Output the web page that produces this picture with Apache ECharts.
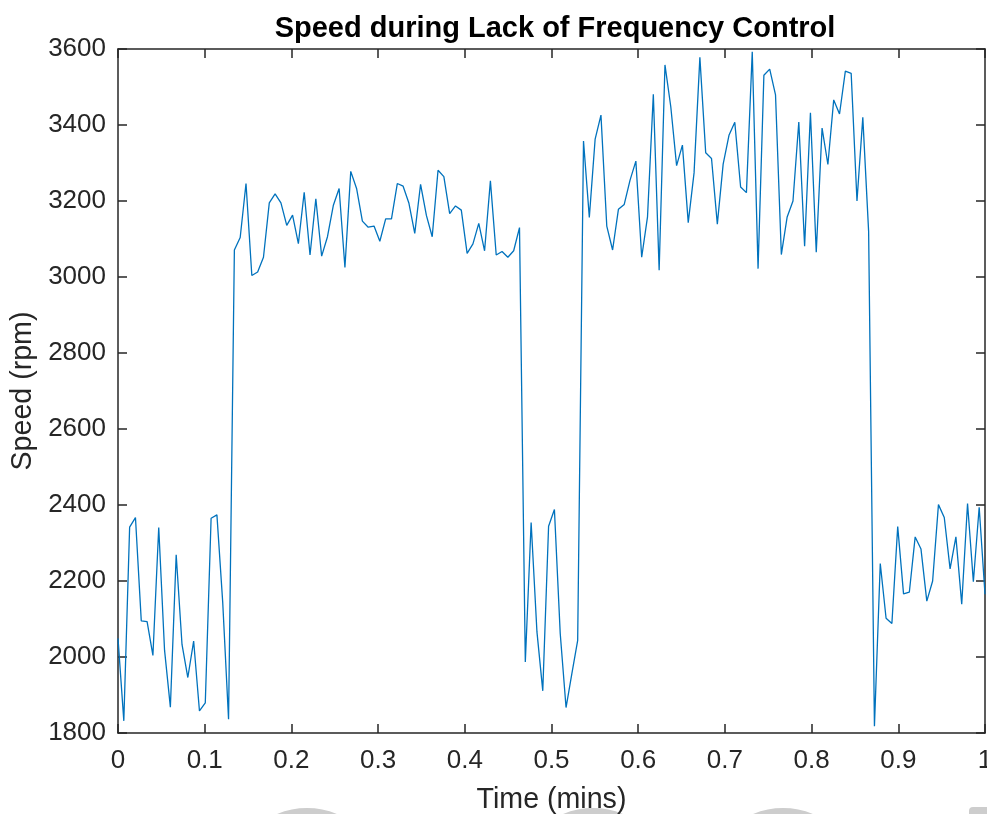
<!DOCTYPE html>
<html>
<head>
<meta charset="utf-8">
<script src="https://cdn.jsdelivr.net/npm/echarts@6/dist/echarts.min.js"></script>
<style>
  html, body { margin: 0; padding: 0; background: #fff; }
  #chart { width: 987px; height: 814px; }
</style>
</head>
<body>
<div id="chart"></div>
<script>
// speed samples (rpm), one every 1/149 min
var speed = [
	2049, 1832, 2342, 2367, 2095, 2093, 2004, 2341, 2018, 1868,
	2269, 2033, 1946, 2042, 1858, 1879, 2365, 2374, 2143, 1836,
	3071, 3104, 3246, 3004, 3013, 3052, 3195, 3219, 3195, 3136,
	3163, 3088, 3223, 3058, 3206, 3055, 3106, 3188, 3233, 3025,
	3278, 3233, 3147, 3131, 3134, 3094, 3153, 3153, 3246, 3239,
	3194, 3115, 3244, 3162, 3106, 3281, 3264, 3167, 3187, 3176,
	3062, 3087, 3141, 3069, 3253, 3058, 3067, 3052, 3069, 3130,
	1987, 2354, 2066, 1911, 2344, 2388, 2062, 1867, 1956, 2044,
	3358, 3157, 3363, 3426, 3134, 3071, 3178, 3191, 3255, 3305,
	3052, 3158, 3481, 3018, 3558, 3448, 3293, 3347, 3143, 3274,
	3578, 3327, 3312, 3139, 3297, 3373, 3407, 3237, 3222, 3593,
	3022, 3531, 3547, 3479, 3059, 3158, 3200, 3408, 3081, 3432,
	3065, 3392, 3296, 3466, 3429, 3542, 3536, 3200, 3420, 3120,
	1818, 2246, 2102, 2088, 2343, 2166, 2171, 2316, 2284, 2147,
	2200, 2401, 2367, 2232, 2316, 2139, 2404, 2198, 2394, 2165
];
var timeMin = 0, timeMax = 1, timeStep = 0.1;
var speedMin = 1800, speedMax = 3600, speedStep = 200;

var points = [];
for (var i = 0; i < speed.length; i++) {
	points.push([i / (speed.length - 1), speed[i]]);
}

var font = 'Liberation Sans, Arial, Helvetica, sans-serif';
var axisColor = '#262626';
var smudge = '#cdcdcd';

var myChart = echarts.init(document.getElementById('chart'));

var frameAxis = {
	axisLine: { show: true, onZero: false, lineStyle: { color: axisColor, width: 1.5 } },
	axisTick: { show: true, inside: true, length: 9, lineStyle: { color: axisColor, width: 1.5 } },
	axisLabel: { show: false },
	splitLine: { show: false }
};

var option = {
	animation: false,
	backgroundColor: '#fff',
	// faint grey blobs peeking in at the bottom edge of the scan
	graphic: [
		{ type: 'circle', z: -10, shape: { cx: 307, cy: 886, r: 78 }, style: { fill: smudge } },
		{ type: 'circle', z: -10, shape: { cx: 593, cy: 886, r: 78 }, style: { fill: smudge } },
		{ type: 'circle', z: -10, shape: { cx: 783, cy: 886, r: 78 }, style: { fill: smudge } },
		{ type: 'rect', z: -10, shape: { x: 969, y: 807, width: 30, height: 20, r: 4 }, style: { fill: smudge } }
	],
	title: {
		text: 'Speed during Lack of Frequency Control',
		left: 550,
		top: 9,
		textAlign: 'center',
		textStyle: { fontFamily: font, fontSize: 29, fontWeight: 'bold', color: '#000' }
	},
	grid: { left: 118, right: 2, top: 49, bottom: 81, containLabel: false, outerBoundsMode: 'none' },
	xAxis: [{
		type: 'value',
		min: timeMin, max: timeMax, interval: timeStep,
		name: 'Time (mins)',
		nameLocation: 'middle',
		nameGap: 53,
		nameTextStyle: { fontFamily: font, fontSize: 28.6, color: axisColor },
		axisLine: { show: true, onZero: false, lineStyle: { color: axisColor, width: 1.5 } },
		axisTick: { show: true, inside: true, length: 9, lineStyle: { color: axisColor, width: 1.5 } },
		axisLabel: { margin: 15, fontFamily: font, fontSize: 26, color: axisColor },
		splitLine: { show: false }
	}, Object.assign({
		type: 'value', position: 'top',
		min: timeMin, max: timeMax, interval: timeStep
	}, frameAxis)],
	yAxis: [{
		type: 'value',
		min: speedMin, max: speedMax, interval: speedStep,
		name: 'Speed (rpm)',
		nameLocation: 'middle',
		nameGap: 80,
		nameTextStyle: { fontFamily: font, fontSize: 28.6, color: axisColor },
		axisLine: { show: true, onZero: false, lineStyle: { color: axisColor, width: 1.5 } },
		axisTick: { show: true, inside: true, length: 9, lineStyle: { color: axisColor, width: 1.5 } },
		axisLabel: {
			margin: 12, fontFamily: font, fontSize: 26, color: axisColor,
			padding: [4, 0, 0, 0],
			formatter: function (v) { return String(v); }
		},
		splitLine: { show: false }
	}, Object.assign({
		type: 'value', position: 'right',
		min: speedMin, max: speedMax, interval: speedStep
	}, frameAxis)],
	series: [{
		name: 'Speed',
		type: 'line',
		data: points,
		showSymbol: false,
		lineStyle: { color: '#0072BD', width: 1.3 },
		itemStyle: { color: '#0072BD' }
	}]
};
myChart.setOption(option);
</script>
</body>
</html>
